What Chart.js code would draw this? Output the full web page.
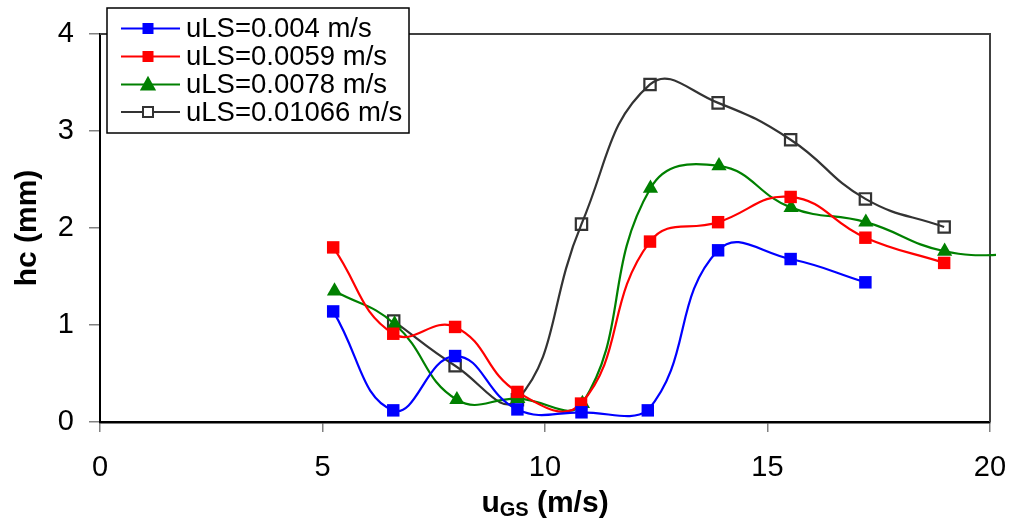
<!DOCTYPE html>
<html>
<head>
<meta charset="utf-8">
<script src="https://cdn.jsdelivr.net/npm/chart.js@4/dist/chart.umd.min.js"></script>
<style>
html,body{margin:0;padding:0;background:#fff;}
#wrap{width:1013px;height:519px;position:relative;}
</style>
</head>
<body>
<div id="wrap"><canvas id="c" width="1013" height="519"></canvas></div>
<script>
// ---- data ----
const seriesNames = ['uLS=0.004 m/s', 'uLS=0.0059 m/s', 'uLS=0.0078 m/s', 'uLS=0.01066 m/s'];

const blueX = [5.24, 6.59, 7.98, 9.38, 10.82, 12.31, 13.89, 15.52, 17.20];
const blueY = [1.14, 0.12, 0.68, 0.13, 0.10, 0.12, 1.77, 1.68, 1.44];

const redX = [5.24, 6.59, 7.98, 9.38, 10.81, 12.36, 13.89, 15.52, 17.20, 18.97];
const redY = [1.80, 0.91, 0.98, 0.31, 0.19, 1.86, 2.06, 2.32, 1.90, 1.64];

const greenX = [5.27, 6.62, 8.02, 9.39, 10.84, 12.37, 13.91, 15.53, 17.21, 18.98, 20.75];
const greenY = [1.35, 1.01, 0.23, 0.24, 0.19, 2.41, 2.64, 2.21, 2.06, 1.76, 1.72];

const blackX = [6.60, 7.98, 9.38, 10.82, 12.36, 13.89, 15.52, 17.20, 18.97];
const blackY = [1.04, 0.58, 0.23, 2.04, 3.48, 3.29, 2.91, 2.30, 2.01];

const xTicks = [0, 5, 10, 15, 20];
const yTicks = [0, 1, 2, 3, 4];

function pts(xs, ys){ return xs.map((x,i)=>({x:x, y:ys[i]})); }

const TENSION = 0.45;
const datasets = [
  {label: seriesNames[0], data: pts(blueX, blueY), borderColor:'#0000FF', backgroundColor:'#0000FF',
   pointStyle:'rect', pointRadius:8.8, pointBorderWidth:0, borderWidth:2.2, legendMarker:'rect', legendSize:11},
  {label: seriesNames[1], data: pts(redX, redY), borderColor:'#FF0000', backgroundColor:'#FF0000',
   pointStyle:'rect', pointRadius:8.8, pointBorderWidth:0, borderWidth:2.2, legendMarker:'rect', legendSize:11},
  {label: seriesNames[2], data: pts(greenX, greenY), borderColor:'#008000', backgroundColor:'#008000',
   pointStyle:'triangle', pointRadius:8.8, pointBorderWidth:0, borderWidth:2.2, legendMarker:'triangle', legendSize:14},
  {label: seriesNames[3], data: pts(blackX, blackY), borderColor:'#333333', backgroundColor:'#ffffff',
   pointStyle:'rect', pointRadius:8, pointBorderWidth:2.2, pointBorderColor:'#333333', pointBackgroundColor:'rgba(255,255,255,0)',
   borderWidth:2.2, legendMarker:'openrect', legendSize:10}
];
datasets.forEach(d=>{ d.showLine = true; d.tension = TENSION; d.fill = false; d.clip = 6; });

const FONT = '"Liberation Sans", Arial, sans-serif';

const framePlugin = {
  id:'frame',
  beforeDatasetsDraw(chart){
    const a = chart.chartArea, ctx = chart.ctx;
    ctx.save();
    ctx.strokeStyle = '#404040';
    ctx.lineWidth = 2;
    ctx.beginPath();
    ctx.moveTo(a.left, a.top);
    ctx.lineTo(a.right, a.top);
    ctx.lineTo(a.right, a.bottom);
    ctx.stroke();
    ctx.restore();
  },
  afterDraw(chart){
    const ctx = chart.ctx, a = chart.chartArea;
    ctx.save();
    // axis titles
    ctx.fillStyle = '#000';
    ctx.textBaseline = 'alphabetic';
    const cx = (a.left + a.right)/2;
    const big = 'bold 30px ' + FONT, small = 'bold 20px ' + FONT;
    ctx.font = big; const wU = ctx.measureText('u').width;
    ctx.font = small; const wGS = ctx.measureText('GS').width;
    ctx.font = big; const wRest = ctx.measureText(' (m/s)').width;
    let x0 = cx - (wU + wGS + wRest)/2;
    ctx.textAlign = 'left';
    ctx.font = big; ctx.fillText('u', x0, 512);
    ctx.font = small; ctx.fillText('GS', x0 + wU, 516);
    ctx.font = big; ctx.fillText(' (m/s)', x0 + wU + wGS, 512);
    // y title
    ctx.save();
    ctx.translate(28, (a.top + a.bottom)/2);
    ctx.rotate(-Math.PI/2);
    ctx.textAlign = 'center';
    ctx.textBaseline = 'middle';
    ctx.font = 'bold 30px ' + FONT;
    ctx.fillText('hc (mm)', 0, 0);
    ctx.restore();

    // legend box
    const L = {x:107, y:8, w:302, h:125};
    ctx.fillStyle = '#fff';
    ctx.fillRect(L.x, L.y, L.w, L.h);
    ctx.strokeStyle = '#000';
    ctx.lineWidth = 1.5;
    ctx.strokeRect(L.x, L.y, L.w, L.h);
    const rows = [28.5, 56.5, 84.5, 112];
    chart.data.datasets.forEach((d, i)=>{
      const y = rows[i];
      ctx.strokeStyle = d.borderColor;
      ctx.lineWidth = 2;
      ctx.beginPath(); ctx.moveTo(121, y); ctx.lineTo(180, y); ctx.stroke();
      const mx = 148, s = d.legendSize;
      if (d.legendMarker === 'rect'){
        ctx.fillStyle = d.borderColor;
        ctx.fillRect(mx - s/2, y - s/2, s, s);
      } else if (d.legendMarker === 'triangle'){
        ctx.fillStyle = d.borderColor;
        ctx.beginPath();
        ctx.moveTo(mx, y - s*0.62);
        ctx.lineTo(mx + s*0.58, y + s*0.42);
        ctx.lineTo(mx - s*0.58, y + s*0.42);
        ctx.closePath(); ctx.fill();
      } else {
        ctx.fillStyle = '#fff';
        ctx.fillRect(mx - s/2, y - s/2, s, s);
        ctx.strokeStyle = d.borderColor; ctx.lineWidth = 2;
        ctx.strokeRect(mx - s/2, y - s/2, s, s);
      }
      ctx.fillStyle = '#000';
      ctx.font = '27.5px ' + FONT;
      ctx.textAlign = 'left';
      ctx.textBaseline = 'middle';
      ctx.fillText(d.label, 186, y + 1);
    });
    ctx.restore();
  }
};

new Chart(document.getElementById('c'), {
  type: 'scatter',
  data: { datasets: datasets },
  plugins: [framePlugin],
  options: {
    responsive: false,
    animation: false,
    devicePixelRatio: 1,
    layout: { padding: { left: 0, right: 23, top: 34, bottom: 0 } },
    plugins: { legend: { display: false }, tooltip: { enabled: false } },
    elements: { line: { capBezierPoints: true } },
    scales: {
      x: {
        type: 'linear', min: 0, max: 20,
        afterBuildTicks(s){ s.ticks = xTicks.map(v=>({value:v})); },
        afterFit(s){ s.height = 97; s.paddingLeft = 0; s.paddingRight = 0; },
        ticks: { color:'#000', font:{ size:29, family: FONT }, padding: 19, maxRotation:0 },
        grid: { drawOnChartArea:false, drawTicks:true, tickLength:10, color:'#808080', lineWidth:1.5 },
        border: { color:'#000', width:2.5 }
      },
      y: {
        type: 'linear', min: 0, max: 4,
        afterBuildTicks(s){ s.ticks = yTicks.map(v=>({value:v})); },
        afterFit(s){ s.width = 100; s.paddingTop = 0; s.paddingBottom = 0; },
        ticks: { color:'#000', font:{ size:29, family: FONT }, padding: 15 },
        grid: { drawOnChartArea:false, drawTicks:true, tickLength:11, color:'#808080', lineWidth:1.5 },
        border: { color:'#000', width:2 }
      }
    }
  }
});
</script>
</body>
</html>
